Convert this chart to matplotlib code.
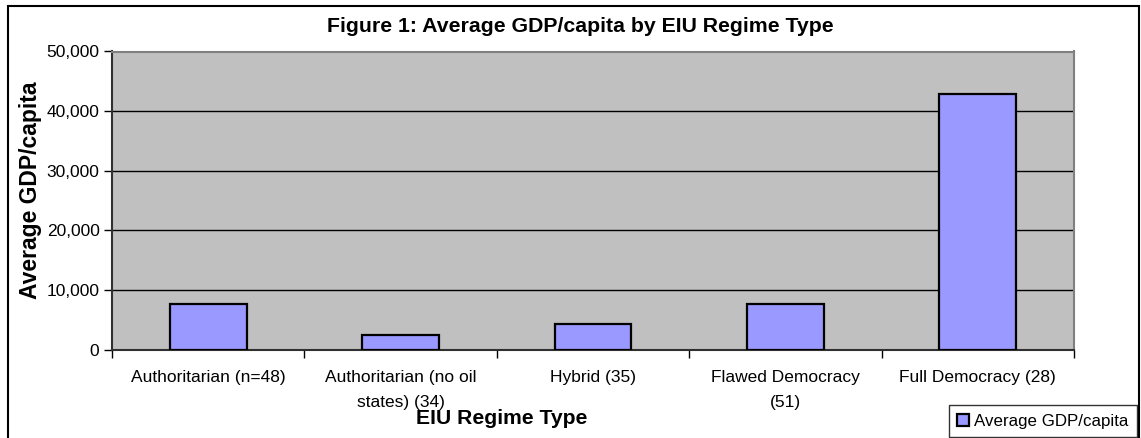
import matplotlib
matplotlib.use('Agg')
from matplotlib import pyplot as plt
from matplotlib.patches import Rectangle
from matplotlib.ticker import FuncFormatter, FixedLocator

plt.rcParams['font.family'] = ['Liberation Sans', 'DejaVu Sans']

# data
categories = ['Authoritarian (n=48)', 'Authoritarian (no oil\nstates) (34)', 'Hybrid (35)',
              'Flawed Democracy\n(51)', 'Full Democracy (28)']
gdp_per_capita = [7700, 2450, 4250, 7600, 42900]
y_ticks = [0, 10000, 20000, 30000, 40000, 50000]

W, H = 1141, 438
fig = plt.figure(figsize=(W / 100, H / 100), dpi=100)
fig.patch.set_facecolor('white')

# outer chart border (bottom runs off the picture)
fig.patches.append(Rectangle((8 / W, -0.05), (1139 - 8) / W, 1.05 - 6 / H,
                             transform=fig.transFigure, fill=False,
                             edgecolor='black', linewidth=1.5))

ax = fig.add_axes([112 / W, 1 - 349.5 / H, (1074 - 112) / W, (349.5 - 51.5) / H])
ax.set_facecolor('#C0C0C0')

x = list(range(len(categories)))
ax.bar(x, gdp_per_capita, width=0.4, color='#9999FF', edgecolor='black',
       linewidth=1.6, label='Average GDP/capita', zorder=3)

ax.set_xlim(-0.5, len(categories) - 0.5)
ax.set_ylim(0, 50000)
ax.set_yticks(y_ticks)
ax.yaxis.set_major_formatter(FuncFormatter(lambda v, p: f'{int(v):,}'))
ax.yaxis.grid(True, color='black', linewidth=1)
ax.set_axisbelow(True)

ax.set_xticks(x)
ax.set_xticklabels(categories, fontsize=12.5, linespacing=1.8)
ax.xaxis.set_minor_locator(FixedLocator([i - 0.5 for i in range(len(categories) + 1)]))
ax.tick_params(axis='x', which='major', length=0, pad=15)
ax.tick_params(axis='x', which='minor', length=6, width=1, direction='out')
ax.tick_params(axis='y', length=6, width=1, direction='out', labelsize=12.5, pad=3)

for side in ['top', 'right']:
    ax.spines[side].set_color('#808080')
    ax.spines[side].set_linewidth(1.5)
for side in ['left', 'bottom']:
    ax.spines[side].set_color('#303030')
    ax.spines[side].set_linewidth(1.5)

fig.text(580 / W, 1 - 27 / H, 'Figure 1: Average GDP/capita by EIU Regime Type',
         ha='center', va='center', fontsize=15.3, fontweight='bold')
fig.text(31 / W, 1 - 190 / H, 'Average GDP/capita', rotation=90,
         ha='center', va='center', fontsize=16.5, fontweight='bold')
fig.text(502 / W, 1 - 418 / H, 'EIU Regime Type',
         ha='center', va='center', fontsize=15.2, fontweight='bold')

leg = ax.legend(loc='lower right', bbox_to_anchor=(1137 / W, 1 / H),
                bbox_transform=fig.transFigure, fontsize=12.2, frameon=True,
                fancybox=False, handlelength=0.7, handleheight=0.7,
                handletextpad=0.3, borderpad=0.5, borderaxespad=0)
leg.get_frame().set_edgecolor('black')
leg.get_frame().set_linewidth(1)

fig.savefig('out.png', dpi=100)
